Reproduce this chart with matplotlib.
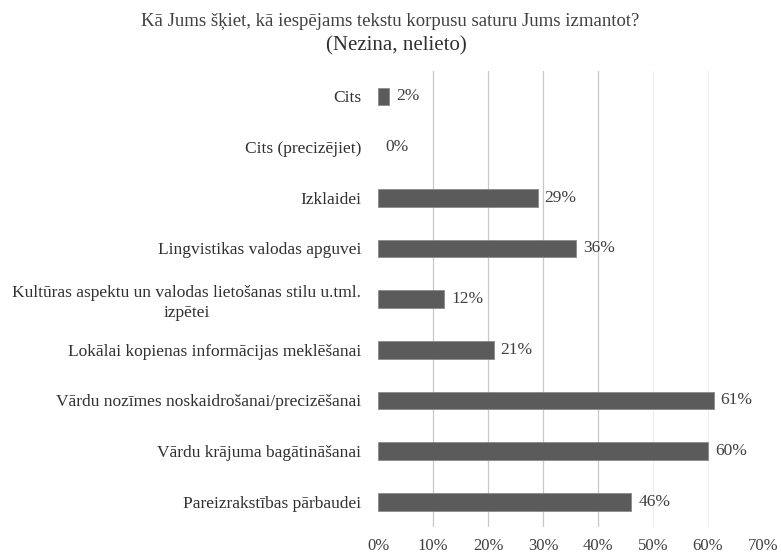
import matplotlib.pyplot as plt
import numpy as np

plt.rcParams['font.family'] = ['Liberation Serif', 'DejaVu Serif']

TITLE_1 = "Kā Jums šķiet, kā iespējams tekstu korpusu saturu Jums izmantot?"
TITLE_2 = "(Nezina, nelieto)"

categories = [
    "Cits",
    "Cits (precizējiet)",
    "Izklaidei",
    "Lingvistikas valodas apguvei",
    "Kultūras aspektu un valodas lietošanas stilu u.tml.\nizpētei",
    "Lokālai kopienas informācijas meklēšanai",
    "Vārdu nozīmes noskaidrošanai/precizēšanai",
    "Vārdu krājuma bagātināšanai",
    "Pareizrakstības pārbaudei",
]
values = [2, 0, 29, 36, 12, 21, 61, 60, 46]
xticks = [0, 10, 20, 30, 40, 50, 60, 70]

fig = plt.figure(figsize=(7.81, 5.56), dpi=100)
ax = fig.add_axes([0.484, 0.052, 0.493, 0.82])

y = np.arange(len(categories))
lw = [0.6 if v > 0 else 0 for v in values]
ax.barh(y, values, height=0.35, color="#5b5b5b", edgecolor="#8a8a8a",
        linewidth=lw, zorder=3)

for yi, v in zip(y, values):
    ax.text(v + 1.3, yi, f"{v}%", va="center", ha="left",
            fontsize=12.5, color="#404040")

ax.set_xlim(0, 70)
ax.set_ylim(len(categories) - 0.5, -0.5)
ax.set_yticks(y)
ax.set_yticklabels(categories, fontsize=12.5, color="#303030", linespacing=1.3)
for lab in ax.get_yticklabels():
    lab.set_multialignment("center")
ax.set_xticks(xticks)
ax.set_xticklabels([f"{t}%" for t in xticks], fontsize=12, color="#404040")
ax.tick_params(axis="y", length=0, pad=12)
ax.tick_params(axis="x", length=0, pad=8)

for t in xticks[1:]:
    c = "#c8c8c8" if t <= 40 else "#f0f0f0"
    ax.axvline(t, color=c, linewidth=0.9, zorder=1)

for s in ax.spines.values():
    s.set_visible(False)

fig.text(0.5, 0.962, TITLE_1, ha="center", va="center", fontsize=13.5, color="#404040")
fig.text(0.508, 0.918, TITLE_2, ha="center", va="center", fontsize=15, color="#303030")

fig.savefig("out.png", dpi=100)
